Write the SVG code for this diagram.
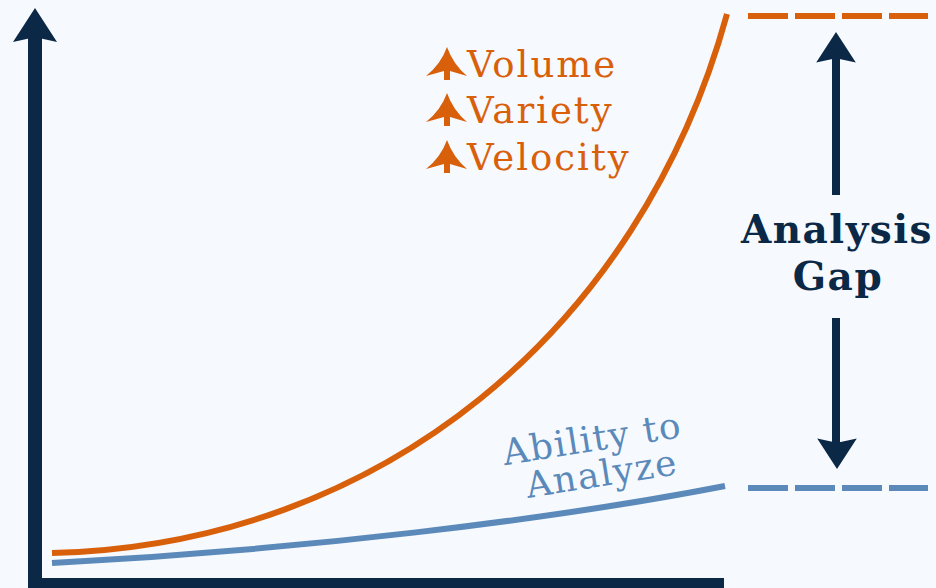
<svg xmlns="http://www.w3.org/2000/svg" width="936" height="588" viewBox="0 0 936 588">
<style>
.navy{fill:#0b2946}
.orangeTxt{fill:#d9600b;font-family:"DejaVu Serif",serif;font-size:37px;letter-spacing:2px}
.blueTxt{fill:#5b8aba;font-family:"DejaVu Serif",serif;font-size:36px;letter-spacing:1.5px;text-anchor:middle}
.gapTxt{fill:#0b2946;font-family:"DejaVu Serif",serif;font-size:39px;font-weight:bold;letter-spacing:1.5px;text-anchor:middle}
.curve{fill:none;stroke-width:6;stroke-linecap:butt}
.dash{fill:none;stroke-width:6;stroke-dasharray:40 7}
</style>
<defs>
<path id="up" d="M0,0 L22,34 L4,30 L-4,30 L-22,34 Z"/>
<path id="tree" d="M0,0 Q6,17 20,29 L3,24 L3,33 L-3,33 L-3,24 L-21,29 Q-6,17 0,0 Z"/>
</defs>
<rect width="936" height="588" fill="#f6f9fd"/>
<g id="axes" class="navy">
<rect x="28" y="36" width="14" height="552"/>
<use href="#up" transform="translate(35,8)"/>
<rect x="28" y="578" width="696" height="10"/>
</g>
<g id="connectors">
<path id="data-curve" class="curve" stroke="#d9600b" d="M52,553 C380,545 640,330 727,14"/>
<path id="ability-curve" class="curve" stroke="#5b8aba" d="M52,563 C300,550 550,520 725,486"/>
<line class="dash" stroke="#d9600b" x1="748" y1="16" x2="928" y2="16"/>
<line class="dash" stroke="#5b8aba" x1="748" y1="488" x2="928" y2="488"/>
<g class="navy">
<rect x="832" y="58" width="8" height="137"/>
<use href="#up" transform="translate(836,32) scale(0.9)"/>
<rect x="832" y="318" width="8" height="125"/>
<use href="#up" transform="translate(837,469) scale(0.9,-0.9)"/>
</g>
</g>
<g id="drivers">
<g fill="#d9600b">
<use href="#tree" transform="translate(447,47)"/>
<use href="#tree" transform="translate(447,93)"/>
<use href="#tree" transform="translate(447,140)"/>
</g>
<text class="orangeTxt" x="467" y="77">Volume</text>
<text class="orangeTxt" x="467" y="123">Variety</text>
<text class="orangeTxt" x="467" y="170">Velocity</text>
</g>
<g id="ability-label" transform="translate(594,451) rotate(-9)">
<text class="blueTxt" x="0" y="0">Ability to</text>
<text class="blueTxt" x="4" y="36">Analyze</text>
</g>
<g id="gap-label">
<text class="gapTxt" x="837" y="243">Analysis</text>
<text class="gapTxt" x="838" y="290">Gap</text>
</g>
</svg>
